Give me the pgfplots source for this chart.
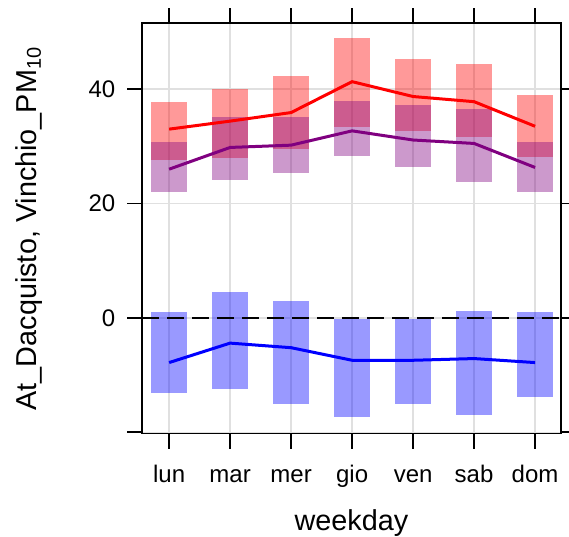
\documentclass[border=0pt]{standalone}
\usepackage{pgfplots}
\pgfplotsset{compat=1.18}
\usepackage{pgfplotstable}
\usepackage{fontspec}
\setmainfont{Liberation Sans}
\definecolor{rpurple}{RGB}{128,0,128}

\pgfplotstableread{
x lo hi mean
1 27.6 37.7 33.0
2 27.9 40.1 34.4
3 29.5 42.3 35.9
4 33.3 49.0 41.3
5 32.7 45.2 38.7
6 31.7 44.3 37.8
7 28.2 38.9 33.5
}\redtab
\pgfplotstableread{
x lo hi mean
1 22.0 30.7 26.0
2 24.1 35.1 29.8
3 25.4 35.1 30.2
4 28.3 38.0 32.7
5 26.4 37.3 31.1
6 23.8 36.5 30.5
7 22.0 30.7 26.3
}\purtab
\pgfplotstableread{
x lo hi mean
1 -13.1 1.0 -7.8
2 -12.5 4.5 -4.4
3 -15.0 2.9 -5.2
4 -17.3 -0.2 -7.4
5 -15.0 -0.2 -7.4
6 -17.0 1.3 -7.1
7 -13.8 1.0 -7.8
}\bluetab

\begin{document}
\begin{tikzpicture}
\begin{axis}[
  name=ax,
  scale only axis,
  width=209.2pt, height=205.1pt,
  xmin=0.56, xmax=7.42,
  ymin=-20.2, ymax=51.5,
  xtick={1,2,3,4,5,6,7},
  xticklabels={lun,mar,mer,gio,ven,sab,dom},
  ytick={-20,0,20,40},
  yticklabels={{},0,20,40},
  tick align=outside,
  tick pos=both,
  major tick length=7.5pt,
  every tick/.style={black, line width=0.9pt},
  axis line style={black, line width=0.9pt},
  grid=major,
  major grid style={black!12, line width=0.75pt},
  /pgf/number format/assume math mode=true,
  tick label style={font=\fontsize{12}{14}\selectfont, black},
  xlabel={weekday},
  ylabel={At\_Dacquisto, Vinchio\_PM\textsubscript{10}},
  every axis y label/.style={at={(axis description cs:-0.2705,0.5)}, rotate=90, anchor=center, font=\fontsize{14.4}{17}\selectfont},
  every axis x label/.style={at={(axis description cs:0.5,0)}, anchor=base, yshift=-48.25pt, font=\fontsize{14.4}{17}\selectfont},
  yticklabel style={xshift=-2.5pt},
  xticklabel style={text height=8.6pt, text depth=2.6pt, yshift=-4.75pt},
  clip=false,
]
\addplot[draw=none, mark=none, forget plot,
  error bars/.cd, y dir=both, y explicit, error mark=none,
  error bar style={line width=18pt, draw=red, draw opacity=0.4}]
  table[x=x, y expr=0.5*(\thisrow{lo}+\thisrow{hi}), y error expr=0.5*(\thisrow{hi}-\thisrow{lo})] {\redtab};
\addplot[draw=none, mark=none, forget plot,
  error bars/.cd, y dir=both, y explicit, error mark=none,
  error bar style={line width=18pt, draw=rpurple, draw opacity=0.4}]
  table[x=x, y expr=0.5*(\thisrow{lo}+\thisrow{hi}), y error expr=0.5*(\thisrow{hi}-\thisrow{lo})] {\purtab};
\addplot[draw=none, mark=none, forget plot,
  error bars/.cd, y dir=both, y explicit, error mark=none,
  error bar style={line width=18pt, draw=blue, draw opacity=0.4}]
  table[x=x, y expr=0.5*(\thisrow{lo}+\thisrow{hi}), y error expr=0.5*(\thisrow{hi}-\thisrow{lo})] {\bluetab};
\addplot[red, line width=1.5pt, mark=none] table[x=x, y=mean] {\redtab};
\addplot[rpurple, line width=1.5pt, mark=none] table[x=x, y=mean] {\purtab};
\addplot[blue, line width=1.5pt, mark=none] table[x=x, y=mean] {\bluetab};
\addplot[black, line width=0.75pt, dash pattern=on 8.5pt off 4pt, mark=none] coordinates {(0.56,0) (7.42,0)};
\end{axis}
\pgfresetboundingbox
\path ([shift={(-71.15pt,-51.25pt)}]ax.south west) rectangle ([shift={(4.15pt,11.65pt)}]ax.north east);
\end{tikzpicture}
\end{document}
